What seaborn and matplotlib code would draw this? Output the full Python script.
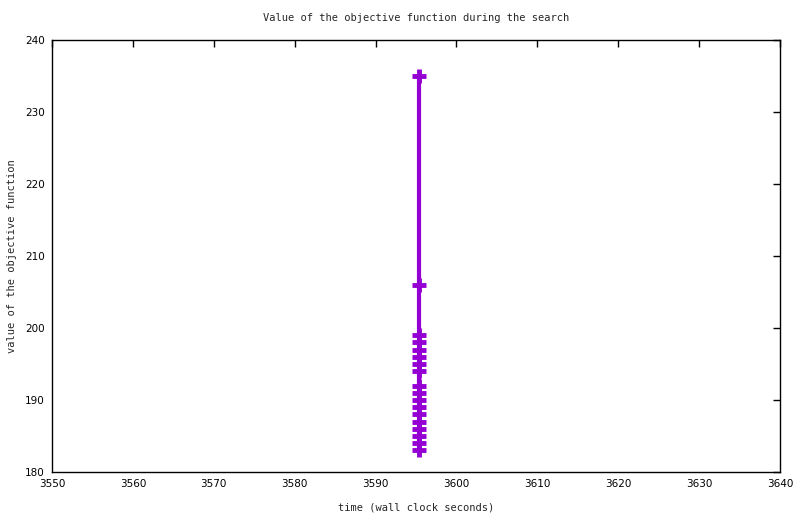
import pandas as pd
import matplotlib
matplotlib.use("Agg")
import matplotlib.pyplot as plt
import seaborn as sns

# objective function values (all at ~3595.4 s)
time_s = [3595.4] * 18
objective = [235, 206, 199, 198, 197, 196, 195, 194, 192, 191,
             190, 189, 188, 187, 186, 185, 184, 183]

df = pd.DataFrame({"time": time_s, "objective": objective})

sns.set_style("white")
plt.rcParams["font.family"] = ["DejaVu Sans"]

fig = plt.figure(figsize=(8, 5.14), dpi=100)
ax = fig.add_axes([0.065, 0.0817, 0.91, 0.8405])

sns.lineplot(data=df, x="time", y="objective", sort=False, estimator=None,
             color="#9400D3", linewidth=3, marker="+", markersize=10,
             markeredgewidth=3.5, markeredgecolor="#9400D3", ax=ax)

ax.set_xlim(3550, 3640)
ax.set_ylim(180, 240)
ax.set_xticks(range(3550, 3641, 10))
ax.set_yticks(range(180, 241, 10))
ax.tick_params(direction="in", length=5, width=1, top=True, right=True,
               labelsize=7.5, colors="black", pad=5)
for s in ax.spines.values():
    s.set_color("black")
    s.set_linewidth(1)

mono = "DejaVu Sans Mono"
ax.set_title("Value of the objective function during the search",
             fontsize=7.5, family=mono, pad=14)
ax.set_xlabel("time (wall clock seconds)", fontsize=7.5, family=mono, labelpad=10)
ax.set_ylabel("value of the objective function", fontsize=7.5, family=mono, labelpad=6)

fig.savefig("out.png", dpi=100)
